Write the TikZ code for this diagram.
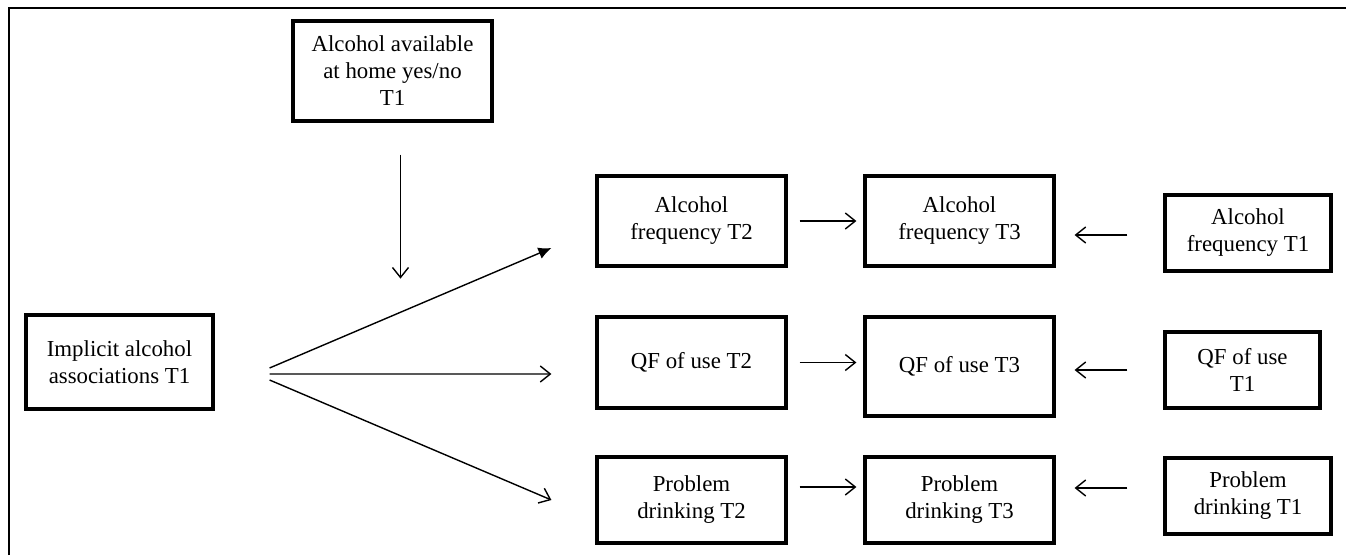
\documentclass[tikz,border=0pt]{standalone}
\usepackage{fontspec}
\setmainfont{Liberation Serif}
\usetikzlibrary{positioning,arrows.meta}

\tikzset{
  box/.style={draw, line width=1.8pt, align=center, inner sep=0.4mm,
    font=\fontsize{13pt}{15.4pt}\selectfont},
  bigbox/.style={box, minimum width=3.78cm, minimum height=1.8cm},
  smallbox/.style={box, minimum width=3.32cm, minimum height=1.52cm},
  arr/.style={line width=0.8pt, -{Straight Barb[length=2mm,width=3.2mm]}},
  arrfill/.style={line width=0.8pt, -{Latex[length=2.6mm,width=2.4mm]}}
}

\begin{document}
\begin{tikzpicture}[scale=1]

\useasboundingbox (0,0) rectangle (26.92,11.1);

% frame
\draw [line width=1.6pt] (0.18,0)--(0.18,10.94)--(26.92,10.94);

% moderator and predictor
\node (avail) at (7.85,9.68) [box, minimum width=3.98cm, minimum height=2cm]
  {Alcohol available\\at home yes/no\\T1};
\node (impl) at (2.39,3.86) [box, minimum width=3.74cm, minimum height=1.88cm]
  {Implicit alcohol\\associations T1};

% T2 outcomes
\node (freqtwo) at (13.83,6.68) [bigbox]{Alcohol\\frequency T2};
\node (qftwo) at (13.83,3.85) [bigbox, minimum height=1.82cm]{QF of use T2};
\node (probtwo) at (13.83,1.1) [bigbox, minimum height=1.72cm]{Problem\\drinking T2};

% T3 outcomes
\node (freqthree) at (19.19,6.68) [bigbox]{Alcohol\\frequency T3};
\node (qfthree) at (19.19,3.77) [bigbox, minimum height=1.98cm]{QF of use T3};
\node (probthree) at (19.19,1.1) [bigbox, minimum height=1.72cm]{Problem\\drinking T3};

% T1 covariates
\node (freqone) at (24.96,6.44) [smallbox]{Alcohol\\frequency T1};
\node (qfone) at (24.85,3.7) [smallbox, minimum width=3.1cm]{QF of use\\T1};
\node (probone) at (24.96,1.18) [smallbox]{Problem\\drinking T1};

% paths
\draw [arr] ([xshift=0.16cm,yshift=-0.64cm]avail.south) -- ++(0,-2.48);

\draw [arrfill] ([xshift=1.1cm,yshift=-0.12cm]impl.east)
  -- ([xshift=-0.88cm,yshift=-0.54cm]freqtwo.west);
\draw [arr] ([xshift=1.1cm,yshift=-0.24cm]impl.east)
  -- ([xshift=-0.88cm,yshift=-0.23cm]qftwo.west);
\draw [arr] ([xshift=1.1cm,yshift=-0.36cm]impl.east)
  -- ([xshift=-0.88cm]probtwo.west);

\draw [arr, shorten <=0.24cm, shorten >=0.14cm] (freqtwo.east) -- (freqthree.west);
\draw [arr, shorten <=0.24cm, shorten >=0.14cm] (qftwo.east) -- (qfthree.west |- qftwo.east);
\draw [arr, shorten <=0.24cm, shorten >=0.14cm] ([yshift=0.26cm]probtwo.east) -- ([yshift=0.26cm]probthree.west);

\draw [arr, shorten <=0.72cm, shorten >=0.38cm] ([yshift=-0.04cm]freqone.west) -- ([yshift=-0.04cm]freqthree.east |- freqone.west);
\draw [arr, shorten <=0.72cm, shorten >=0.38cm] (qfone.west) -- (qfthree.east |- qfone.west);
\draw [arr, shorten <=0.72cm, shorten >=0.38cm] ([yshift=0.16cm]probone.west) -- ([yshift=0.16cm]probthree.east |- probone.west);

\end{tikzpicture}
\end{document}
